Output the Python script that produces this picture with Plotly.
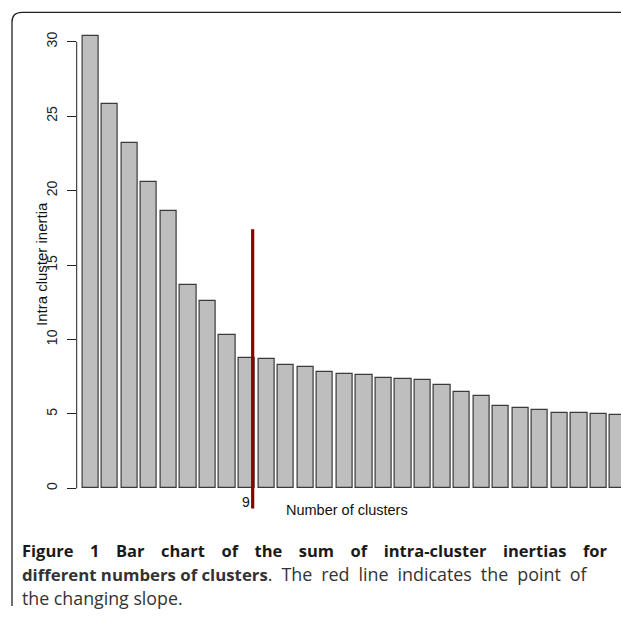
import plotly.graph_objects as go

# ---- data ----
n_clusters = list(range(1, 29))
inertia = [30.4, 25.8, 23.2, 20.55, 18.64, 13.67, 12.58, 10.32, 8.73, 8.68,
           8.30, 8.17, 7.80, 7.68, 7.59, 7.43, 7.36, 7.25, 6.94, 6.49,
           6.18, 5.51, 5.37, 5.26, 5.06, 5.06, 5.01, 4.94]
y_ticks = [0, 5, 10, 15, 20, 25, 30]
elbow_k = 9
elbow_line_x = 9.3
elbow_line_y = [-1.35, 17.4]

W, H = 621, 619


def px(x):
    return x / W


def py(y):
    return 1 - y / H


# pixel geometry of the plotting region
x_left_px = 76.7
bar1_center_px = 90.4
pitch_px = 19.55
y0_px, y30_px = 488.3, 41.7
unit_px = (y0_px - y30_px) / 30.0

x_range = [1 + (x_left_px - bar1_center_px) / pitch_px,
           1 + (W - bar1_center_px) / pitch_px]
y_range = [(y0_px - H) / unit_px, y0_px / unit_px]

fig = go.Figure()
fig.add_trace(go.Bar(
    x=n_clusters, y=inertia, width=0.83,
    marker=dict(color="#BEBEBE", line=dict(color="#3a3a3a", width=1.2)),
    showlegend=False, hoverinfo="x+y",
))
fig.add_trace(go.Scatter(
    x=[elbow_line_x, elbow_line_x], y=elbow_line_y, mode="lines",
    line=dict(color="#8B0000", width=3.2), showlegend=False, hoverinfo="skip",
))

axis_font = dict(family="Liberation Sans, Arial, sans-serif", size=14, color="#222")

fig.update_layout(
    width=W, height=H,
    margin=dict(l=0, r=0, t=0, b=0),
    paper_bgcolor="white", plot_bgcolor="rgba(0,0,0,0)",
    xaxis=dict(domain=[px(x_left_px), 1], range=x_range, showgrid=False,
               zeroline=False, showline=False, showticklabels=False,
               ticks="", automargin=False, fixedrange=True),
    yaxis=dict(domain=[0, 1], range=y_range, showgrid=False, zeroline=False,
               showline=False, tickmode="array", tickvals=y_ticks,
               ticktext=[str(v) for v in y_ticks], ticks="outside", ticklen=9,
               tickwidth=1, tickcolor="#222", tickangle=-90, tickfont=axis_font,
               ticklabelstandoff=4, automargin=False, fixedrange=True),
    bargap=0,
)

# y axis line (from first to last tick, R style)
fig.add_shape(type="line", xref="paper", yref="y",
              x0=px(x_left_px), x1=px(x_left_px), y0=y_ticks[0], y1=y_ticks[-1],
              line=dict(color="#222", width=1))

# outer frame with rounded top-left corner
r = 10
fx, fy, fy_bottom = 12, 12.3, 606
path = (f"M {px(fx)} {py(fy_bottom)} L {px(fx)} {py(fy + r)} "
        f"Q {px(fx)} {py(fy)} {px(fx + r)} {py(fy)} L {px(W + 5)} {py(fy)}")
fig.add_shape(type="path", xref="paper", yref="paper", path=path,
              line=dict(color="#222", width=1.3))

# axis texts
fig.add_annotation(x=px(41), y=py(264), xref="paper", yref="paper",
                   text="Intra cluster inertia", textangle=-90, showarrow=False,
                   font=dict(family="Liberation Sans, Arial, sans-serif", size=15, color="#111"),
                   xanchor="center", yanchor="middle")
fig.add_annotation(x=px(347), y=py(510), xref="paper", yref="paper",
                   text="Number of clusters", showarrow=False,
                   font=dict(family="Liberation Sans, Arial, sans-serif", size=14.5, color="#111"),
                   xanchor="center", yanchor="middle")
fig.add_annotation(x=elbow_k - 0.05, y=-0.92, xref="x", yref="y", text=str(elbow_k),
                   showarrow=False,
                   font=dict(family="Liberation Sans, Arial, sans-serif", size=14, color="#111"),
                   xanchor="center", yanchor="middle")

# caption (justified look emulated with wider spaces)
EM = "\u2003"
EN = "\u2002"
line1 = "Figure 1 Bar chart of the sum of intra-cluster inertias for".replace(" ", EM)
line2_bold = "different numbers of clusters"
line2_reg = ". The red line indicates the point of".replace(" ", EN)
line3 = "the changing slope."

fig.add_annotation(x=px(20), y=py(550), xref="paper", yref="paper",
                   text=f"<b>{line1}</b>", showarrow=False,
                   font=dict(family="Open Sans, sans-serif", size=16.5, color="#1a1a1a"),
                   xanchor="left", yanchor="middle")
fig.add_annotation(x=px(20), y=py(574), xref="paper", yref="paper",
                   text=(f"<b><span style='font-size:16.8px'>{line2_bold}</span></b>"
                         f"{line2_reg}"),
                   showarrow=False,
                   font=dict(family="Open Sans, sans-serif", size=17.9, color="#333"),
                   xanchor="left", yanchor="middle")
fig.add_annotation(x=px(20), y=py(598), xref="paper", yref="paper",
                   text=line3, showarrow=False,
                   font=dict(family="Open Sans, sans-serif", size=17.8, color="#333"),
                   xanchor="left", yanchor="middle")

fig.write_html("out.html", config={"displayModeBar": False},
               post_script="document.body.style.margin='0px';")
